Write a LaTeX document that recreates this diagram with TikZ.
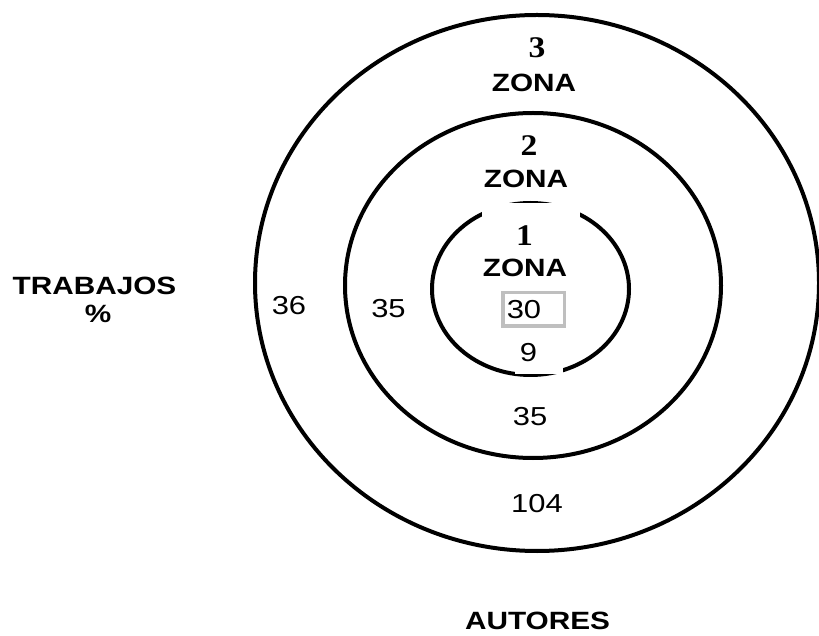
\documentclass[tikz,border=0pt]{standalone}
\usepackage{fontspec}
\setmainfont{Liberation Sans}[FakeStretch=1.19]
\newfontfamily\romana{Liberation Serif}[FakeStretch=1.12]
\definecolor{grisclaro}{RGB}{191,191,191}

\begin{document}
\begin{tikzpicture}[
  x=1pt, y=1pt,
  anillo/.style={draw=black, line width=4pt},
  numzona/.style={font=\romana\bfseries\fontsize{30}{30}\selectfont, inner sep=0pt},
  rotulo/.style={font=\bfseries\fontsize{25}{25}\selectfont, inner sep=0pt},
  cifra/.style={font=\fontsize{26}{26}\selectfont, inner sep=0pt},
  fondo/.style={fill=white, inner sep=0pt},
  caja/.style={draw=grisclaro, line width=3.5pt, inner xsep=4pt, inner ysep=0pt,
    text width=53.5pt, align=left, minimum height=33.5pt, font=\fontsize{26}{26}\selectfont}
]
  \useasboundingbox (0,0) rectangle (819,635);

  % Las tres zonas
  \draw[anillo] (537,352) ellipse [x radius=282, y radius=268];
  \draw[anillo] (533,349.5) ellipse [x radius=188, y radius=172.5];
  \draw[anillo] (530.5,346) ellipse [x radius=98.5, y radius=86];

  % Zona 3
  \node[numzona] (n3) at (537,587) {3};
  \node[rotulo] (z3) at (534,552) {ZONA};
  % Zona 2
  \node[numzona] (n2) at (529,489) {2};
  \node[rotulo] (z2) at (526,456) {ZONA};
  % Zona 1 (los recuadros blancos tapan parte del borde)
  \node[fondo, minimum width=98pt, minimum height=65pt] (f1) at (531,399) {};
  \node[fondo, minimum width=48pt, minimum height=42.6pt] (f9) at (539,282) {};
  \node[numzona] (n1) at (524.5,399) {1};
  \node[rotulo] (z1) at (525,367.5) {ZONA};
  \node[caja] (n30) at (533.5,325.5) {30};
  \node[cifra] (n9) at (528.5,282) {9};

  % Cifras de las zonas
  \node[cifra] (c35b) at (530,218) {35};
  \node[cifra] (c104) at (537,131) {104};
  \node[cifra] (c36) at (289,329) {36};
  \node[cifra] (c35i) at (388.5,326) {35};

  % Ejes
  \node[rotulo] (trab) at (94.5,349) {TRABAJOS};
  \node[rotulo] (pct) at (98,321) {\%};
  \node[rotulo] (aut) at (537.5,14) {AUTORES};
\end{tikzpicture}
\end{document}
